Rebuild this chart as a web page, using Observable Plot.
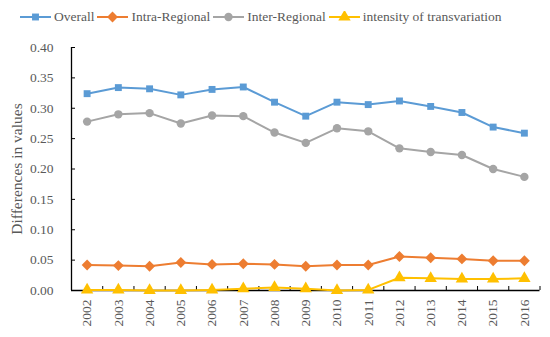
<!DOCTYPE html>
<html>
<head>
<meta charset="utf-8">
<script src="https://cdn.jsdelivr.net/npm/d3@7"></script>
<script src="https://cdn.jsdelivr.net/npm/@observablehq/plot@0.6"></script>
<style>
  body { margin: 0; background: #fff; font-family: "Liberation Serif", "Times New Roman", serif; }
  #legend { height: 34px; display: flex; align-items: center; padding-left: 20px; color: #595959; font-size: 13.5px; white-space: nowrap; }
  #legend .item { display: flex; align-items: center; margin-right: 3px; flex: none; }
  #legend .item svg { flex: none; display: block; }
  #legend .item span { margin-left: 3px; }
</style>
</head>
<body>
<div id="legend"></div>
<div id="chart"></div>
<script>
const years = [2002, 2003, 2004, 2005, 2006, 2007, 2008, 2009, 2010, 2011, 2012, 2013, 2014, 2015, 2016];
const overall   = [0.324, 0.334, 0.332, 0.322, 0.331, 0.335, 0.310, 0.287, 0.310, 0.306, 0.312, 0.303, 0.293, 0.269, 0.259];
const intra     = [0.042, 0.041, 0.040, 0.046, 0.043, 0.044, 0.043, 0.040, 0.042, 0.042, 0.056, 0.054, 0.052, 0.049, 0.049];
const inter     = [0.278, 0.290, 0.292, 0.275, 0.288, 0.287, 0.260, 0.243, 0.267, 0.262, 0.234, 0.228, 0.223, 0.200, 0.187];
const intensity = [0.001, 0.001, 0.000, 0.000, 0.001, 0.003, 0.005, 0.003, 0.000, 0.001, 0.021, 0.020, 0.019, 0.019, 0.020];
const seriesNames = ["Overall", "Intra-Regional", "Inter-Regional", "intensity of transvariation"];
const seriesValues = [overall, intra, inter, intensity];
const colors = ["#5B9BD5", "#ED7D31", "#A5A5A5", "#FFC000"];
const symbols = [d3.symbolSquare, d3.symbolDiamond2, d3.symbolCircle, d3.symbolTriangle];
const symbolSizes = [3.9, 4.9, 4.2, 4.6];
const yTicks = [0, 0.05, 0.10, 0.15, 0.20, 0.25, 0.30, 0.35, 0.40];
const yLabel = "Differences in values";

const data = seriesNames.flatMap((s, k) => years.map((year, i) => ({series: s, year, value: seriesValues[k][i]})));
const xMin = years[0] - 0.5, xMax = years[years.length - 1] + 0.5;
const bounds = d3.range(xMin, xMax + 0.01, 1);

// Legend
const legend = d3.select("#legend");
seriesNames.forEach((s, k) => {
  const item = legend.append("div").attr("class", "item");
  const svg = item.append("svg").attr("width", 31).attr("height", 12);
  svg.append("line").attr("x1", 0).attr("x2", 31).attr("y1", 6).attr("y2", 6).attr("stroke", colors[k]).attr("stroke-width", 2);
  svg.append("path").attr("transform", "translate(15.5,6)")
    .attr("d", d3.symbol(symbols[k], Math.PI * symbolSizes[k] * symbolSizes[k])()).attr("fill", colors[k]);
  item.append("span").text(s);
});

const seriesMarks = seriesNames.flatMap((s, k) => {
  const d = data.filter(r => r.series === s);
  return [
    Plot.line(d, {x: "year", y: "value", stroke: colors[k], strokeWidth: 2}),
    Plot.dot(d, {x: "year", y: "value", fill: colors[k], stroke: "none", symbol: symbols[k], r: symbolSizes[k]})
  ];
});

const plot = Plot.plot({
  width: 550,
  height: 303,
  marginLeft: 71,
  marginRight: 10.5,
  marginTop: 13,
  marginBottom: 47,
  style: {fontFamily: "Liberation Serif", fontSize: "13px", color: "#595959", background: "white"},
  x: {type: "linear", domain: [xMin, xMax]},
  y: {domain: [0, 0.40]},
  marks: [
    Plot.axisY({ticks: yTicks, tickFormat: d3.format(".2f"), tickSize: 0, tickPadding: 18, label: null, fontSize: 13.5}),
    Plot.axisX({ticks: years, tickFormat: d => String(d), tickRotate: -90, tickSize: 0, tickPadding: 9, label: null, fontSize: 13.5}),
    Plot.text([yLabel], {frameAnchor: "left", textAnchor: "middle", dx: -54, rotate: -90, fontSize: 15.5, fill: "#595959", text: d => d}),
    Plot.ruleY(yTicks, {y: d => d, x1: xMin, x2: xMin, insetRight: -4, stroke: "#000", strokeWidth: 1}),
    Plot.ruleX(bounds, {x: d => d, y1: 0, y2: 0, insetBottom: 4, stroke: "#000", strokeWidth: 1}),
    Plot.ruleX([xMin], {y1: 0, y2: 0.40, stroke: "#000", strokeWidth: 1.3}),
    Plot.ruleY([0], {x1: xMin, x2: xMax, stroke: "#000", strokeWidth: 1.3}),
    ...seriesMarks
  ]
});
document.getElementById("chart").appendChild(plot);
</script>
</body>
</html>
